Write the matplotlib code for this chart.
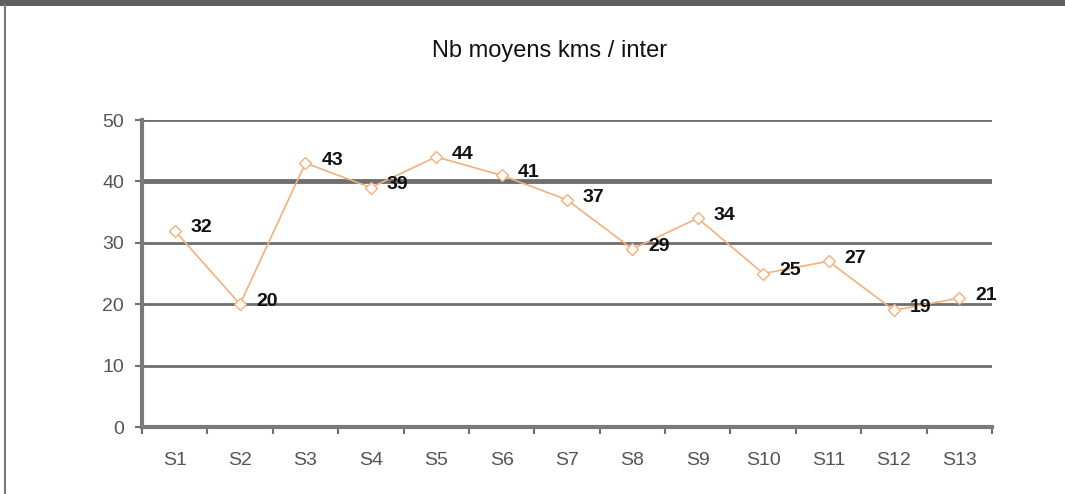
import numpy as np
import matplotlib.pyplot as plt
from matplotlib.lines import Line2D
from matplotlib.patches import Rectangle

semaines = ['S1', 'S2', 'S3', 'S4', 'S5', 'S6', 'S7', 'S8', 'S9', 'S10', 'S11', 'S12', 'S13']
kms = [32, 20, 43, 39, 44, 41, 37, 29, 34, 25, 27, 19, 21]

plt.rcParams['font.family'] = ['Liberation Sans', 'DejaVu Sans']

fig = plt.figure(figsize=(10.65, 4.94), dpi=100)
ax = fig.add_axes([0.1333, 0.1356, 0.7982, 0.6214])

x = np.arange(len(semaines))

# lignes de grille
for v in [10, 20, 30, 40, 50]:
    ax.axhline(v, color='#6f6f6f', lw=3.5 if v == 40 else 2, zorder=1)

ax.plot(x, kms, color='#f3b07a', lw=1.2, marker='D', markersize=6,
        markerfacecolor='white', markeredgecolor='#f3b07a', zorder=3)

for xi, v in zip(x, kms):
    ax.annotate(str(v), (xi, v), xytext=(11.5, 2), textcoords='offset points',
                fontsize=14, fontweight='bold', color='#111111',
                ha='left', va='center', zorder=4)

ax.set_xlim(-0.5, len(semaines) - 0.5)
ax.set_ylim(0, 50)
ax.set_yticks([0, 10, 20, 30, 40, 50])
ax.set_xticks(x)
ax.set_xticklabels(semaines)
ax.set_xticks(np.arange(-0.5, len(semaines)), minor=True)
ax.tick_params(axis='x', which='major', length=0, pad=18, labelsize=14, labelcolor='#555555')
ax.tick_params(axis='x', which='minor', length=5, width=1.5, color='#6f6f6f', direction='out')
ax.tick_params(axis='y', length=5, width=1.5, color='#6f6f6f', pad=8, labelsize=14, labelcolor='#555555')

for s in ['top', 'right']:
    ax.spines[s].set_visible(False)
for s in ['left', 'bottom']:
    ax.spines[s].set_color('#7a7a7a')
    ax.spines[s].set_linewidth(3)

fig.text(0.516, 0.896, 'Nb moyens kms / inter', ha='center', va='center',
         fontsize=17, color='#111111')

# cadre
fig.add_artist(Rectangle((0, 0.988), 1, 0.012, transform=fig.transFigure,
                         color='#5f5f5f', lw=0))
fig.add_artist(Line2D([0.005, 0.005], [0, 0.99], transform=fig.transFigure,
                      color='#7a7a7a', lw=1.5))

fig.savefig('out.png', dpi=100)
